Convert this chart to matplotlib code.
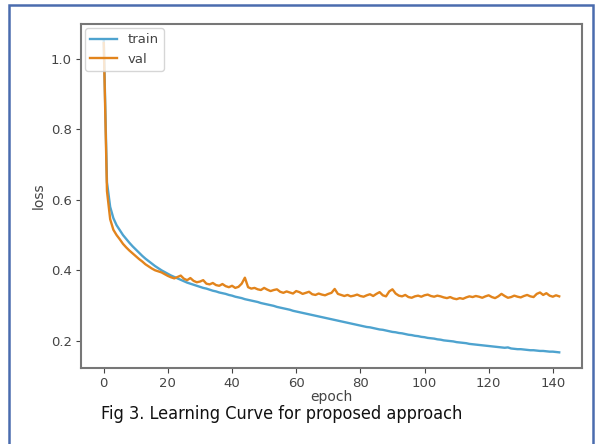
import numpy as np
import matplotlib.pyplot as plt
from matplotlib.patches import Rectangle

# loss values (epochs 0..142)
train_loss = [
    1.055, 0.650, 0.580, 0.548, 0.528, 0.514, 0.500, 0.489, 0.478, 0.468,
    0.459, 0.450, 0.441, 0.433, 0.426, 0.419, 0.412, 0.406, 0.400, 0.395,
    0.390, 0.385, 0.381, 0.377, 0.373, 0.369, 0.365, 0.362, 0.359, 0.356,
    0.353, 0.350, 0.348, 0.345, 0.342, 0.340, 0.337, 0.335, 0.333, 0.330,
    0.328, 0.325, 0.323, 0.321, 0.318, 0.316, 0.314, 0.312, 0.310, 0.307,
    0.305, 0.303, 0.301, 0.299, 0.296, 0.294, 0.292, 0.290, 0.288, 0.285,
    0.283, 0.281, 0.279, 0.277, 0.275, 0.273, 0.271, 0.269, 0.267, 0.265,
    0.263, 0.261, 0.259, 0.257, 0.255, 0.253, 0.251, 0.249, 0.247, 0.245,
    0.243, 0.241, 0.239, 0.238, 0.236, 0.234, 0.232, 0.231, 0.229, 0.227,
    0.225, 0.224, 0.222, 0.221, 0.219, 0.217, 0.216, 0.214, 0.213, 0.211,
    0.210, 0.208, 0.207, 0.206, 0.204, 0.203, 0.201, 0.200, 0.199, 0.198,
    0.196, 0.195, 0.194, 0.193, 0.191, 0.190, 0.189, 0.188, 0.187, 0.186,
    0.185, 0.184, 0.183, 0.182, 0.181, 0.180, 0.181, 0.178, 0.177, 0.176,
    0.176, 0.175, 0.174, 0.173, 0.173, 0.172, 0.171, 0.171, 0.170, 0.169,
    0.169, 0.168, 0.167,
]
val_loss = [
    1.045, 0.625, 0.545, 0.515, 0.500, 0.488, 0.475, 0.465, 0.456, 0.448,
    0.440, 0.432, 0.425, 0.417, 0.411, 0.405, 0.400, 0.397, 0.394, 0.389,
    0.384, 0.380, 0.377, 0.381, 0.385, 0.376, 0.372, 0.378, 0.370, 0.366,
    0.368, 0.372, 0.362, 0.360, 0.364, 0.358, 0.356, 0.361, 0.355, 0.352,
    0.356, 0.350, 0.353, 0.362, 0.379, 0.352, 0.348, 0.350, 0.346, 0.344,
    0.350, 0.345, 0.341, 0.344, 0.346, 0.339, 0.336, 0.340, 0.337, 0.334,
    0.341, 0.338, 0.333, 0.336, 0.339, 0.332, 0.330, 0.334, 0.331, 0.329,
    0.333, 0.336, 0.347, 0.333, 0.330, 0.327, 0.330, 0.326, 0.328, 0.331,
    0.327, 0.325, 0.329, 0.332, 0.327, 0.333, 0.338, 0.329, 0.326, 0.340,
    0.346, 0.334, 0.328, 0.326, 0.330, 0.324, 0.322, 0.326, 0.328, 0.325,
    0.329, 0.331, 0.327, 0.325, 0.328, 0.326, 0.323, 0.321, 0.324, 0.320,
    0.318, 0.321, 0.319, 0.323, 0.326, 0.324, 0.327, 0.325, 0.322, 0.326,
    0.329, 0.324, 0.321, 0.326, 0.333, 0.327, 0.322, 0.324, 0.328, 0.325,
    0.323, 0.327, 0.330, 0.326, 0.324, 0.333, 0.337, 0.330, 0.335, 0.328,
    0.325, 0.329, 0.326,
]
epochs = np.arange(len(train_loss))

caption = "Fig 3. Learning Curve for proposed approach"

fig = plt.figure(figsize=(5.99, 4.44), dpi=100)
ax = fig.add_axes([0.1352, 0.1712, 0.8364, 0.7748])

ax.plot(epochs, train_loss, color='#4ea3cf', linewidth=1.7, label='train')
ax.plot(epochs, val_loss, color='#e2841c', linewidth=1.7, label='val')

ax.set_xticks([0, 20, 40, 60, 80, 100, 120, 140])
ax.set_yticks([0.2, 0.4, 0.6, 0.8, 1.0])
ax.tick_params(colors='#444444', labelsize=9.5, pad=3)
for s in ax.spines.values():
    s.set_color('#777777')
    s.set_linewidth(1.5)

ax.set_xlabel('epoch', color='#444444', fontsize=10, labelpad=0)
ax.set_ylabel('loss', color='#444444', fontsize=10)
ax.legend(loc='upper left', fontsize=9.5, borderaxespad=0.3,
          labelcolor='#444444')

fig.text(0.168, 0.068, caption, fontsize=13, va='center',
         family='DejaVu Sans', fontstretch='condensed', color='#111111')

# blue frame around the picture
fig.patches.append(Rectangle((0.015, -0.02), 0.975, 1.009,
                             transform=fig.transFigure, fill=False,
                             edgecolor='#4a6cae', linewidth=1.8))

fig.savefig('out.png', dpi=100)
